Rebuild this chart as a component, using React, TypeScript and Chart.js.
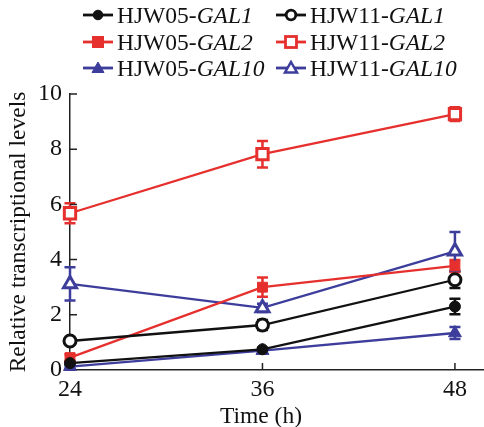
import React, { useEffect, useRef } from 'react';
import { Chart, registerables } from 'chart.js';
Chart.register(...registerables);

const timePoints = [24, 36, 48];
const xTickValues = [24, 36, 48];
const yTickValues = [0, 2, 4, 6, 8, 10];

const hjw05Gal1 = [0.25, 0.75, 2.3];
const hjw05Gal1Err = [0.05, 0.06, 0.28];
const hjw11Gal1 = [1.05, 1.63, 3.27];
const hjw11Gal1Err = [0.1, 0.18, 0.3];
const hjw05Gal2 = [0.45, 3.0, 3.77];
const hjw05Gal2Err = [0.12, 0.35, 0.22];
const hjw11Gal2 = [5.68, 7.82, 9.27];
const hjw11Gal2Err = [0.36, 0.48, 0.25];
const hjw05Gal10 = [0.12, 0.7, 1.34];
const hjw05Gal10Err = [0.04, 0.05, 0.22];
const hjw11Gal10 = [3.12, 2.25, 4.3];
const hjw11Gal10Err = [0.6, 0.15, 0.7];

const xAxisTitle = 'Time (h)';
const yAxisTitle = 'Relative transcriptional levels';

const BLACK = '#111111';
const RED = '#e5302d';
const BLUE = '#3d3d9c';
const FONT = '"Liberation Serif", "Times New Roman", serif';

type Series = {
  strain: string;
  gene: string;
  values: number[];
  errors: number[];
  color: string;
  shape: 'circle' | 'rect' | 'triangle';
  filled: boolean;
};

const series: Series[] = [
  { strain: 'HJW05-', gene: 'GAL1', values: hjw05Gal1, errors: hjw05Gal1Err, color: BLACK, shape: 'circle', filled: true },
  { strain: 'HJW11-', gene: 'GAL1', values: hjw11Gal1, errors: hjw11Gal1Err, color: BLACK, shape: 'circle', filled: false },
  { strain: 'HJW05-', gene: 'GAL2', values: hjw05Gal2, errors: hjw05Gal2Err, color: RED, shape: 'rect', filled: true },
  { strain: 'HJW11-', gene: 'GAL2', values: hjw11Gal2, errors: hjw11Gal2Err, color: RED, shape: 'rect', filled: false },
  { strain: 'HJW05-', gene: 'GAL10', values: hjw05Gal10, errors: hjw05Gal10Err, color: BLUE, shape: 'triangle', filled: true },
  { strain: 'HJW11-', gene: 'GAL10', values: hjw11Gal10, errors: hjw11Gal10Err, color: BLUE, shape: 'triangle', filled: false },
];

const radiusFor = (s: Series) => (s.shape === 'circle' ? (s.filled ? 5.5 : 6) : s.shape === 'rect' ? (s.filled ? 7 : 8) : 7.5);

const errorBarPlugin = {
  id: 'errorBars',
  beforeDatasetsDraw(chart: any) {
    const ctx = chart.ctx;
    const xs = chart.scales.x;
    const ys = chart.scales.y;
    ctx.save();
    series.forEach((s) => {
      ctx.strokeStyle = s.color;
      ctx.lineWidth = 2.5;
      s.values.forEach((v, i) => {
        const e = s.errors[i];
        const px = xs.getPixelForValue(timePoints[i]);
        const top = ys.getPixelForValue(v + e);
        const bot = ys.getPixelForValue(v - e);
        ctx.beginPath();
        ctx.moveTo(px, top);
        ctx.lineTo(px, bot);
        ctx.moveTo(px - 5.5, top);
        ctx.lineTo(px + 5.5, top);
        ctx.moveTo(px - 5.5, bot);
        ctx.lineTo(px + 5.5, bot);
        ctx.stroke();
      });
    });
    ctx.restore();
  },
};

const innerTicksPlugin = {
  id: 'innerTicks',
  afterDatasetsDraw(chart: any) {
    const ctx = chart.ctx;
    const xs = chart.scales.x;
    const ys = chart.scales.y;
    const area = chart.chartArea;
    ctx.save();
    ctx.strokeStyle = '#222';
    ctx.lineWidth = 1.5;
    ctx.beginPath();
    yTickValues.forEach((v) => {
      if (v === 0) return;
      const py = ys.getPixelForValue(v);
      ctx.moveTo(area.left, py);
      ctx.lineTo(area.left + 7, py);
    });
    xTickValues.forEach((v) => {
      if (v === 24) return;
      const px = xs.getPixelForValue(v);
      ctx.moveTo(px, area.bottom);
      ctx.lineTo(px, area.bottom - 7);
    });
    ctx.stroke();
    ctx.restore();
  },
};

function Marker({ s }: { s: Series }) {
  const fill = s.filled ? s.color : '#ffffff';
  let shape: React.ReactNode = null;
  if (s.shape === 'circle') {
    shape = <circle cx={15} cy={8} r={4.8} fill={fill} stroke={s.color} strokeWidth={s.filled ? 1 : 2.8} />;
  } else if (s.shape === 'rect') {
    shape = <rect x={9.5} y={2.5} width={11} height={11} fill={fill} stroke={s.color} strokeWidth={s.filled ? 1 : 2.8} />;
  } else {
    shape = <polygon points="15,2 21,12.5 9,12.5" fill={fill} stroke={s.color} strokeWidth={s.filled ? 1 : 2.5} strokeLinejoin="miter" />;
  }
  return (
    <svg width={30} height={16} style={{ display: 'block' }}>
      <line x1={0} y1={8} x2={30} y2={8} stroke={s.color} strokeWidth={2.8} />
      {shape}
    </svg>
  );
}

const legendTextLeft = [117, 310];
const legendRowCenter = [15, 42, 68];

export default function App() {
  const canvasRef = useRef<HTMLCanvasElement | null>(null);

  useEffect(() => {
    if (!canvasRef.current) return;
    const chart = new Chart(canvasRef.current, {
      type: 'line',
      data: {
        datasets: series.map((s) => ({
          label: s.strain + s.gene,
          data: timePoints.map((t, i) => ({ x: t, y: s.values[i] })),
          borderColor: s.color,
          backgroundColor: s.filled ? s.color : '#ffffff',
          pointBackgroundColor: s.filled ? s.color : '#ffffff',
          pointBorderColor: s.color,
          pointBorderWidth: s.filled ? 1 : 3,
          pointStyle: s.shape,
          pointRadius: radiusFor(s),
          borderWidth: 2.3,
          tension: 0,
          fill: false,
          clip: false as any,
        })),
      },
      options: {
        animation: false,
        responsive: false,
        events: [],
        layout: { autoPadding: false, padding: { top: 94, right: 1, left: 0, bottom: 0 } },
        plugins: {
          legend: { display: false },
          tooltip: { enabled: false },
        },
        scales: {
          x: {
            type: 'linear',
            min: 24,
            max: 49.75,
            afterBuildTicks: (scale: any) => {
              scale.ticks = xTickValues.map((v) => ({ value: v }));
            },
            afterFit: (scale: any) => {
              scale.height = 57;
              scale.paddingLeft = 0;
              scale.paddingRight = 0;
            },
            grid: { display: false, drawTicks: false },
            border: { display: true, color: '#222', width: 1.5 },
            ticks: {
              color: '#111',
              padding: 5,
              maxRotation: 0,
              font: { family: FONT, size: 24 },
            },
            title: { display: false },
          },
          y: {
            type: 'linear',
            min: 0,
            max: 10,
            afterBuildTicks: (scale: any) => {
              scale.ticks = yTickValues.map((v) => ({ value: v }));
            },
            afterFit: (scale: any) => {
              scale.width = 70;
              scale.paddingTop = 0;
              scale.paddingBottom = 0;
            },
            grid: { display: false, drawTicks: false },
            border: { display: true, color: '#222', width: 1.5 },
            ticks: {
              color: '#111',
              padding: 8,
              font: { family: FONT, size: 24 },
            },
            title: {
              display: true,
              text: yAxisTitle,
              color: '#111',
              font: { family: FONT, size: 23.5, lineHeight: 1.2 },
              padding: { top: 5, bottom: 0 },
            },
          },
        },
      } as any,
      plugins: [errorBarPlugin, innerTicksPlugin],
    });
    return () => chart.destroy();
  }, []);

  return (
    <div style={{ position: 'absolute', left: 0, top: 0, width: 484, height: 427, background: '#fff' }}>
      <canvas ref={canvasRef} width={484} height={427} style={{ position: 'absolute', left: 0, top: 0 }} />
      <div
        style={{
          position: 'absolute',
          left: 161,
          width: 200,
          top: 403,
          height: 24,
          lineHeight: '24px',
          textAlign: 'center',
          fontFamily: FONT,
          fontSize: 23.5,
          color: '#111',
          whiteSpace: 'nowrap',
        }}
      >
        {xAxisTitle}
      </div>
      {series.map((s, idx) => {
        const col = idx % 2;
        const row = Math.floor(idx / 2);
        const textLeft = legendTextLeft[col];
        const cy = legendRowCenter[row];
        return (
          <React.Fragment key={idx}>
            <div style={{ position: 'absolute', left: textLeft - 34, top: cy - 8 }}>
              <Marker s={s} />
            </div>
            <div
              style={{
                position: 'absolute',
                left: textLeft,
                top: cy - 12,
                height: 24,
                lineHeight: '24px',
                fontFamily: FONT,
                fontSize: 23.5,
                color: '#111',
                whiteSpace: 'nowrap',
              }}
            >
              {s.strain}
              <i>{s.gene}</i>
            </div>
          </React.Fragment>
        );
      })}
    </div>
  );
}
